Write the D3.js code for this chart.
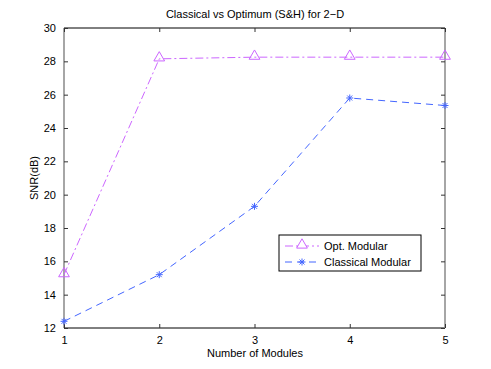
<!DOCTYPE html>
<html lang="en">
<head>
  <meta charset="UTF-8" />
  <title>Classical vs Optimum</title>
  <script src="https://d3js.org/d3.v7.min.js"></script>
  <style>
    body { margin: 0; background: #fff; }
    svg { font-family: 'Liberation Sans', Arial, sans-serif; }
    .tick text { font-size: 11px; fill: #000; }
    .lbl { font-size: 11px; fill: #000; }
  </style>
</head>
<body>
<svg width="491" height="369"></svg>
<script>
const modules = [1, 2, 3, 4, 5];
const optModular = [15.2, 28.15, 28.25, 28.25, 28.25];
const classicalModular = [12.4, 15.2, 19.3, 25.8, 25.35];
const yTicks = [12, 14, 16, 18, 20, 22, 24, 26, 28, 30];

const svg = d3.select("svg");
const m = { left: 64, right: 445, top: 28, bottom: 328 };

const x = d3.scaleLinear().domain([1, 5]).range([m.left, m.right]);
const y = d3.scaleLinear().domain([12, 30]).range([m.bottom, m.top]);

// box
svg.append("line").attr("x1", m.left).attr("x2", m.right).attr("y1", m.top).attr("y2", m.top).attr("stroke", "#000");
svg.append("line").attr("x1", m.left).attr("x2", m.right).attr("y1", m.bottom).attr("y2", m.bottom).attr("stroke", "#000");
svg.append("line").attr("x1", m.left).attr("x2", m.left).attr("y1", m.top).attr("y2", m.bottom).attr("stroke", "#888").attr("stroke-width", 1.5);
svg.append("line").attr("x1", m.right).attr("x2", m.right).attr("y1", m.top).attr("y2", m.bottom).attr("stroke", "#888").attr("stroke-width", 1.5);

// axes with inward ticks
const xAxis = svg.append("g").attr("transform", `translate(0,${m.bottom})`)
  .call(d3.axisBottom(x).tickValues(modules).tickFormat(d3.format("d")).tickSizeInner(-4).tickSizeOuter(0).tickPadding(8));
const xTop = svg.append("g").attr("transform", `translate(0,${m.top})`)
  .call(d3.axisTop(x).tickValues(modules).tickFormat("").tickSizeInner(-4).tickSizeOuter(0));
const yAxis = svg.append("g").attr("transform", `translate(${m.left},0)`)
  .call(d3.axisLeft(y).tickValues(yTicks).tickFormat(d3.format("d")).tickSizeInner(-4).tickSizeOuter(0).tickPadding(8));
const yRight = svg.append("g").attr("transform", `translate(${m.right},0)`)
  .call(d3.axisRight(y).tickValues(yTicks).tickFormat("").tickSizeInner(-4).tickSizeOuter(0));
[xAxis, xTop, yAxis, yRight].forEach(g => {
  g.select(".domain").remove();
  g.selectAll(".tick line").attr("stroke", "#333");
});

// titles
svg.append("text").attr("class", "lbl").attr("x", 255).attr("y", 18).attr("text-anchor", "middle")
  .text("Classical vs Optimum (S&H) for 2\u2212D");
svg.append("text").attr("class", "lbl").attr("x", 255).attr("y", 357).attr("text-anchor", "middle")
  .text("Number of Modules");
svg.append("text").attr("class", "lbl").attr("transform", "translate(38,178) rotate(-90)").attr("text-anchor", "middle")
  .text("SNR(dB)");

const optColor = "#cc66ff";
const clsColor = "#4466ff";
const line = d3.line().x((d, i) => x(modules[i])).y(d => y(d));

svg.append("path").datum(optModular).attr("d", line).attr("fill", "none")
  .attr("stroke", optColor).attr("stroke-dasharray", "8,3,2,3");
svg.append("path").datum(classicalModular).attr("d", line).attr("fill", "none")
  .attr("stroke", clsColor).attr("stroke-dasharray", "7,5");

const tri = d3.symbol().type(d3.symbolTriangle).size(50);
const star = (g, cx, cy, col) => {
  const r = 3.5;
  [[0, 1], [1, 0], [0.707, 0.707], [0.707, -0.707]].forEach(([a, b]) => {
    g.append("line").attr("x1", cx - r * a).attr("x2", cx + r * a)
      .attr("y1", cy - r * b).attr("y2", cy + r * b).attr("stroke", col);
  });
};

svg.selectAll(".opt").data(optModular).enter().append("path")
  .attr("class", "opt")
  .attr("d", tri)
  .attr("transform", (d, i) => `translate(${x(modules[i])},${y(d) - 1})`)
  .attr("fill", "none").attr("stroke", optColor);

const sg = svg.append("g");
classicalModular.forEach((d, i) => star(sg, x(modules[i]), y(d), clsColor));

// legend
const lg = svg.append("g").attr("transform", "translate(279,235)");
lg.append("rect").attr("width", 142).attr("height", 36).attr("fill", "#fff").attr("stroke", "#000");
lg.append("line").attr("x1", 6).attr("x2", 40).attr("y1", 11).attr("y2", 11)
  .attr("stroke", optColor).attr("stroke-dasharray", "8,3,2,3");
lg.append("path").attr("d", tri).attr("transform", "translate(23,10)").attr("fill", "#fff").attr("stroke", optColor);
lg.append("line").attr("x1", 6).attr("x2", 40).attr("y1", 27).attr("y2", 27)
  .attr("stroke", clsColor).attr("stroke-dasharray", "7,5").attr("stroke-dashoffset", 0);
star(lg, 23, 27, clsColor);
lg.append("text").attr("class", "lbl").attr("x", 45).attr("y", 15).text("Opt. Modular");
lg.append("text").attr("class", "lbl").attr("x", 45).attr("y", 31).text("Classical Modular");
</script>
</body>
</html>
